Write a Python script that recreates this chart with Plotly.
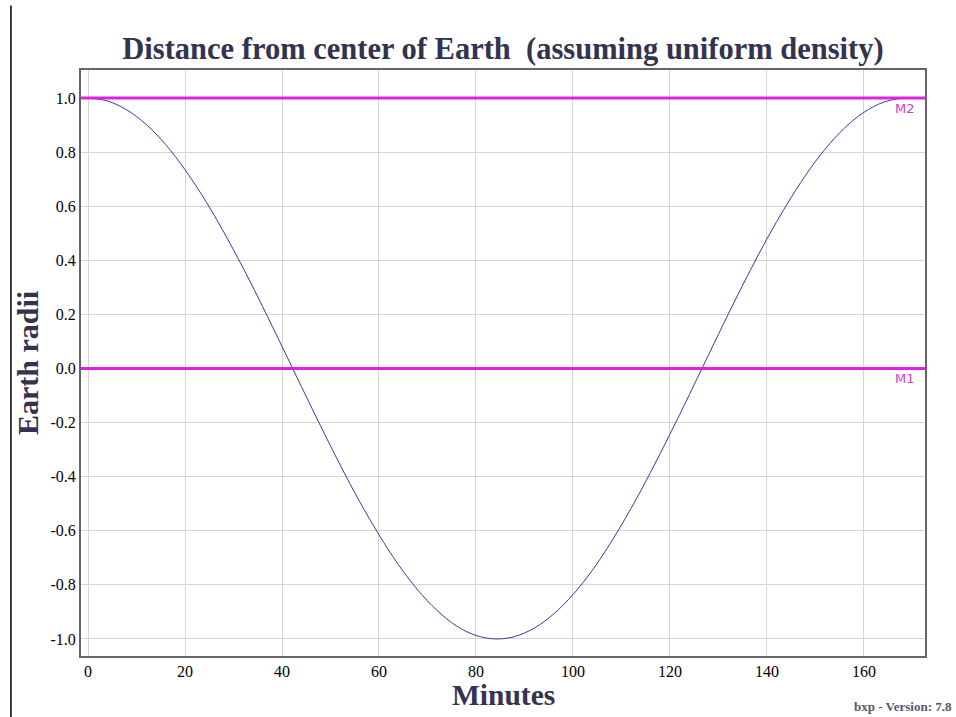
import plotly.graph_objects as go

# Data
minutes = [0, 4, 8, 12, 16, 20, 24, 28, 32, 36, 40, 44, 48, 52, 56, 60, 64, 68,
           72, 76, 80, 84, 88, 92, 96, 100, 104, 108, 112, 116, 120, 124, 128,
           132, 136, 140, 144, 148, 152, 156, 160, 164, 168]
radii = [1.000, 0.989, 0.956, 0.902, 0.828, 0.735, 0.627, 0.504, 0.371, 0.229,
         0.082, -0.067, -0.214, -0.357, -0.492, -0.615, -0.725, -0.819,
         -0.895, -0.952, -0.987, -1.000, -0.991, -0.960, -0.908, -0.836,
         -0.746, -0.638, -0.517, -0.384, -0.243, -0.097, 0.052, 0.200, 0.343,
         0.479, 0.603, 0.715, 0.811, 0.889, 0.947, 0.984, 1.000]

marker_values = [0.0, 1.0]
marker_labels = ["M1", "M2"]

x_ticks = [0, 20, 40, 60, 80, 100, 120, 140, 160]
y_ticks = [-1.0, -0.8, -0.6, -0.4, -0.2, 0.0, 0.2, 0.4, 0.6, 0.8, 1.0]
y_tick_labels = ["%.1f" % v for v in y_ticks]

SERIF = "Liberation Serif, Times New Roman, serif"
MAGENTA = "#e020e0"
TITLE_COLOR = "#333350"

fig = go.Figure()

fig.add_trace(go.Scatter(
    x=minutes, y=radii, mode="lines",
    line=dict(color="#3a3aa0", width=1, shape="spline"),
    showlegend=False, hoverinfo="x+y",
))

for val, lab in zip(marker_values, marker_labels):
    fig.add_shape(type="line", xref="paper", x0=0, x1=1, yref="y", y0=val, y1=val,
                  line=dict(color=MAGENTA, width=3), layer="above")
    fig.add_annotation(x=0.99, xref="paper", y=val, yref="y", text=lab,
                       showarrow=False, xanchor="right", yanchor="top", yshift=-1,
                       font=dict(family="DejaVu Sans, sans-serif", size=13, color="#cc44cc"))

# left page border line
fig.add_shape(type="line", xref="paper", x0=-0.083, x1=-0.083, yref="paper",
              y0=-0.11, y1=1.11, line=dict(color="black", width=1.5))

# x-axis title
fig.add_annotation(x=0.5, xref="paper", y=-0.066, yref="paper", yanchor="middle",
                   xanchor="center", text="<b>Minutes</b>", showarrow=False,
                   borderpad=0,
                   font=dict(family=SERIF, size=29.5, color=TITLE_COLOR))

fig.add_annotation(x=1.033, xref="paper", y=-0.086, yref="paper", yanchor="middle",
                   xanchor="right", text="<b>bxp - Version: 7.8</b>", showarrow=False,
                   borderpad=0,
                   font=dict(family=SERIF, size=13, color="#555570"))

fig.update_layout(
    width=956, height=717,
    margin=dict(l=81, r=31, t=70, b=61),
    paper_bgcolor="white", plot_bgcolor="white",
    title=dict(text="<b>Distance from center of Earth  (assuming uniform density)</b>",
               x=0.5, xref="paper", xanchor="center", y=0.933, yanchor="middle",
               font=dict(family=SERIF, size=30.5, color=TITLE_COLOR)),
    font=dict(family=SERIF, color="black"),
)

fig.update_xaxes(
    range=[-1.45, 172.6], tickvals=x_ticks, ticktext=[str(v) for v in x_ticks],
    tickfont=dict(family=SERIF, size=16, color="black"),
    showgrid=True, gridcolor="#d4d4d4", gridwidth=1, zeroline=False,
    showline=True, linecolor="#666666", linewidth=2, mirror=True,
    ticks="",
)
fig.update_yaxes(
    range=[-1.063, 1.1035], tickvals=y_ticks, ticktext=y_tick_labels,
    tickfont=dict(family=SERIF, size=16, color="black"),
    showgrid=True, gridcolor="#d4d4d4", gridwidth=1, zeroline=False,
    showline=True, linecolor="#666666", linewidth=2, mirror=True,
    ticks="", title=dict(text="<b>Earth radii</b>", standoff=3,
                         font=dict(family=SERIF, size=30, color=TITLE_COLOR)),
)

fig.write_html("out.html")
